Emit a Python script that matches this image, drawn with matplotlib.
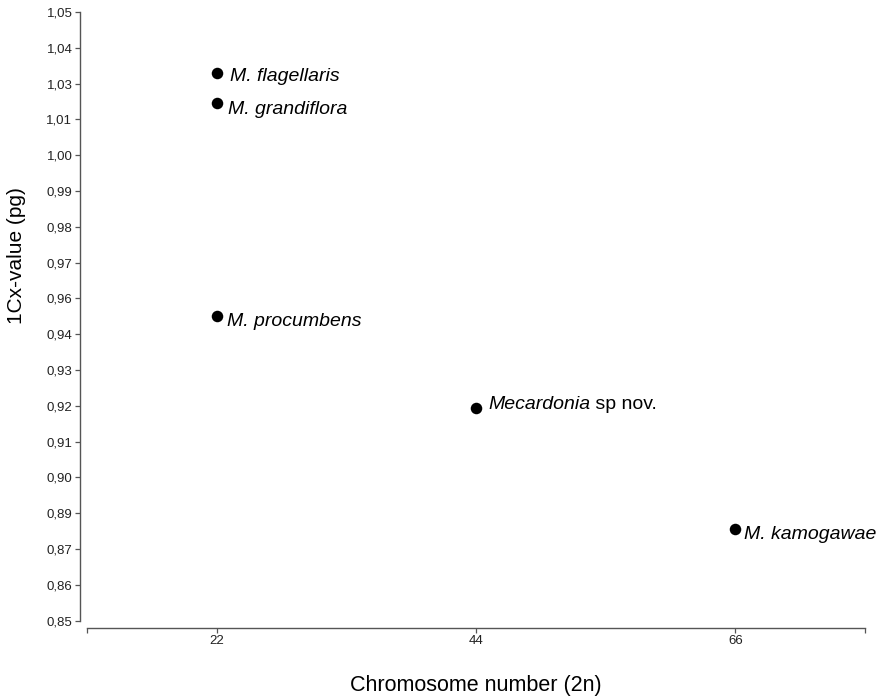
import numpy as np
import matplotlib
matplotlib.use("Agg")
import matplotlib.pyplot as plt

# Data: chromosome number vs 1Cx-value
species = ["M. flagellaris", "M. grandiflora", "M. procumbens", "Mecardonia", "M. kamogawae"]
chromosomes = [22, 22, 22, 44, 66]
cx_values = [1.03, 1.02, 0.95, 0.92, 0.88]

x_ticks = [22, 44, 66]
y_min, y_max = 0.85, 1.05
n_yticks = 18

# label offsets in pixels (dx, dy)
label_offsets = [(13, -4), (11, -6), (10, -5), (12, 3), (9, -5)]

plt.rcParams["font.family"] = ["Liberation Sans", "DejaVu Sans"]

fig = plt.figure(figsize=(8.79, 6.98), dpi=100)
ax = fig.add_axes([87 / 879, 77.3 / 698, 778 / 879, 608.7 / 698])

ax.plot(chromosomes, cx_values, "o", color="black", markersize=8.3, markeredgewidth=0)

for i, (name, x, y) in enumerate(zip(species, chromosomes, cx_values)):
    dx, dy = label_offsets[i]
    t = ax.annotate(name, (x, y), xytext=(dx * 0.72, dy * 0.72), textcoords="offset points",
                    fontsize=14, style="italic", va="center", ha="left")
    if name == "Mecardonia":
        ax.annotate(" sp nov.", xy=(1, 0), xycoords=t, va="bottom", ha="left", fontsize=14)

ax.set_xlim(11, 77)
ax.set_ylim(y_min, y_max)
ax.set_xticks(x_ticks)
ax.set_xticks([11, 77], minor=True)
yt = np.linspace(y_min, y_max, n_yticks)
ax.set_yticks(yt)
ax.set_yticklabels([f"{v:.2f}".replace(".", ",") for v in yt])

for s in ["top", "right"]:
    ax.spines[s].set_visible(False)
for s in ["left", "bottom"]:
    ax.spines[s].set_position(("outward", 5))
    ax.spines[s].set_color("#555555")
    ax.spines[s].set_linewidth(1.0)

ax.tick_params(axis="both", which="both", direction="out", length=3.5, width=0.9,
               color="#555555", labelsize=9.5, labelcolor="#222222", pad=2)
ax.tick_params(axis="x", which="minor", length=3.5)

ax.set_xlabel("Chromosome number (2n)", fontsize=15.5, labelpad=20)
ax.set_ylabel("1Cx-value (pg)", fontsize=15)
ax.yaxis.set_label_coords(-0.078, 0.60)

fig.savefig("out.png", dpi=100)
